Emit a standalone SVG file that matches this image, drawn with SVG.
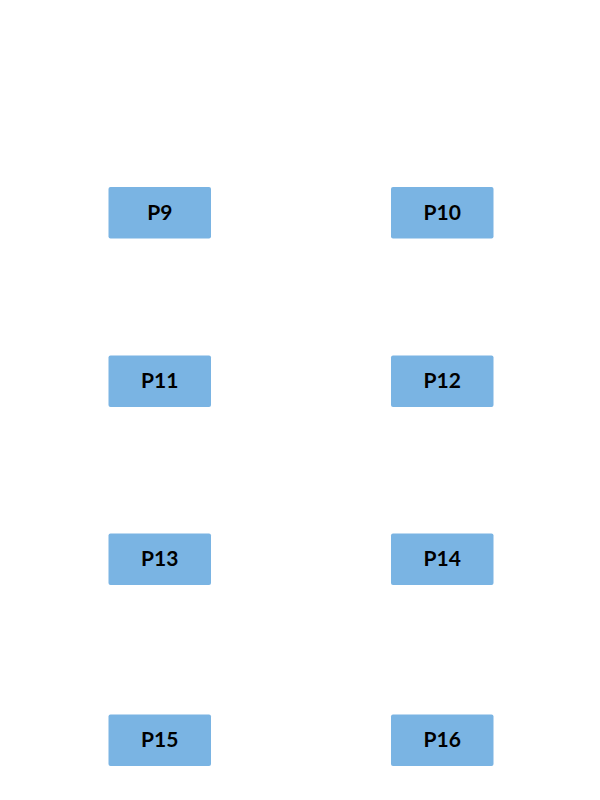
<svg xmlns="http://www.w3.org/2000/svg" width="600" height="800" viewBox="0 0 600 800">
<style>
.box{fill:#7ab4e3;}
.lbl{font-family:"Lato","Open Sans","Liberation Sans",sans-serif;font-weight:bold;font-size:21px;fill:#000;text-anchor:middle;dominant-baseline:central;}
</style>
<rect width="600" height="800" fill="#fff"/>
<g id="connectors"></g>
<g id="P9"><rect class="box" x="108.5" y="187" width="102.5" height="51.5" rx="2"/><text class="lbl" x="159.75" y="211">P9</text></g>
<g id="P10"><rect class="box" x="391" y="187" width="102.5" height="51.5" rx="2"/><text class="lbl" x="442.25" y="211">P10</text></g>
<g id="P11"><rect class="box" x="108.5" y="355.5" width="102.5" height="51.5" rx="2"/><text class="lbl" x="159.75" y="379.5">P11</text></g>
<g id="P12"><rect class="box" x="391" y="355.5" width="102.5" height="51.5" rx="2"/><text class="lbl" x="442.25" y="379.5">P12</text></g>
<g id="P13"><rect class="box" x="108.5" y="533.5" width="102.5" height="51.5" rx="2"/><text class="lbl" x="159.75" y="557.5">P13</text></g>
<g id="P14"><rect class="box" x="391" y="533.5" width="102.5" height="51.5" rx="2"/><text class="lbl" x="442.25" y="557.5">P14</text></g>
<g id="P15"><rect class="box" x="108.5" y="714.5" width="102.5" height="51.5" rx="2"/><text class="lbl" x="159.75" y="738.5">P15</text></g>
<g id="P16"><rect class="box" x="391" y="714.5" width="102.5" height="51.5" rx="2"/><text class="lbl" x="442.25" y="738.5">P16</text></g>
</svg>
